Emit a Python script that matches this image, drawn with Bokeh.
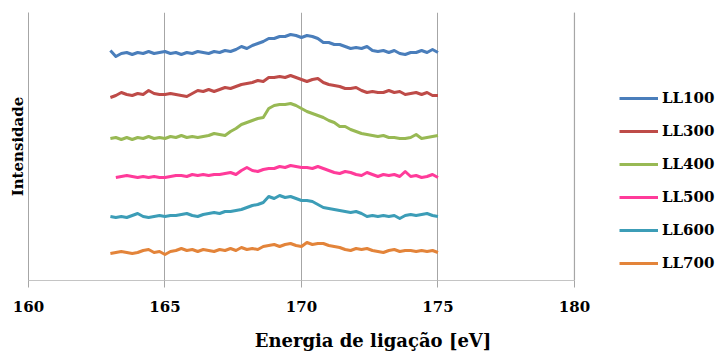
from bokeh.plotting import figure
from bokeh.models import FixedTicker, Legend, LegendItem, Range1d
from bokeh.embed import file_html
from bokeh.resources import INLINE

nan = float("nan")

energy = [163.0, 163.2, 163.4, 163.6, 163.8, 164.0, 164.2, 164.4, 164.6, 164.8,
          165.0, 165.2, 165.4, 165.6, 165.8, 166.0, 166.2, 166.4, 166.6, 166.8,
          167.0, 167.2, 167.4, 167.6, 167.8, 168.0, 168.2, 168.4, 168.6, 168.8,
          169.0, 169.2, 169.4, 169.6, 169.8, 170.0, 170.2, 170.4, 170.6, 170.8,
          171.0, 171.2, 171.4, 171.6, 171.8, 172.0, 172.2, 172.4, 172.6, 172.8,
          173.0, 173.2, 173.4, 173.6, 173.8, 174.0, 174.2, 174.4, 174.6, 174.8,
          175.0]

ll100 = [230, 224, 227, 228, 226, 228, 227, 229, 227, 228,
         229, 227, 228, 226, 228, 227, 229, 228, 227, 229,
         228, 230, 229, 231, 234, 232, 235, 237, 239, 242,
         242, 244, 244, 246, 245, 243, 245, 244, 242, 238,
         238, 236, 236, 234, 232, 233, 232, 234, 230, 229,
         230, 228, 230, 227, 226, 228, 228, 230, 228, 231,
         228]

ll300 = [183, 185, 188, 186, 185, 187, 186, 190, 187, 186,
         186, 187, 186, 185, 184, 187, 190, 189, 191, 189,
         191, 193, 192, 194, 196, 197, 198, 200, 199, 203,
         203, 204, 203, 205, 203, 201, 199, 201, 202, 198,
         196, 195, 194, 192, 192, 193, 190, 188, 189, 188,
         188, 190, 188, 189, 186, 187, 188, 186, 188, 185,
         185]

ll400 = [142, 143, 141, 143, 141, 143, 142, 144, 142, 143,
         142, 144, 143, 145, 143, 144, 143, 144, 145, 147,
         146, 145, 149, 152, 156, 158, 160, 162, 163, 172,
         175, 176, 176, 177, 175, 172, 169, 167, 165, 163,
         160, 158, 154, 154, 151, 149, 147, 146, 145, 144,
         145, 143, 143, 142, 142, 143, 146, 142, 143, 144,
         145]

ll500 = [nan, 103, 104, 105, 104, 103, 104, 103, 104, 103,
         103, 104, 105, 105, 104, 106, 105, 106, 105, 106,
         106, 107, 108, 106, 110, 113, 110, 109, 111, 112,
         112, 114, 113, 115, 114, 113, 113, 112, 114, 112,
         110, 108, 107, 109, 108, 106, 105, 108, 106, 104,
         106, 105, 106, 104, 109, 104, 105, 103, 104, 106,
         103]

ll600 = [64, 63, 64, 63, 65, 67, 64, 63, 64, 65,
         64, 65, 65, 66, 67, 65, 64, 66, 67, 68,
         67, 69, 69, 70, 71, 73, 75, 76, 78, 84,
         82, 85, 83, 84, 82, 80, 80, 79, 76, 73,
         72, 71, 70, 69, 68, 69, 67, 64, 65, 64,
         65, 64, 65, 62, 65, 66, 65, 66, 67, 65,
         64]

ll700 = [27, 28, 29, 28, 27, 28, 30, 31, 28, 29,
         26, 29, 30, 32, 30, 31, 29, 31, 30, 29,
         31, 30, 32, 30, 33, 31, 32, 31, 34, 35,
         36, 34, 36, 37, 35, 34, 38, 36, 37, 37,
         35, 34, 33, 31, 30, 32, 31, 32, 30, 29,
         28, 30, 31, 29, 30, 30, 29, 30, 29, 30,
         28]

series_names = ["LL100", "LL300", "LL400", "LL500", "LL600", "LL700"]
series_values = [ll100, ll300, ll400, ll500, ll600, ll700]
series_colors = ["#4a7ebb", "#be4b48", "#98b954", "#ff3b9a", "#3c9db7", "#e3843a"]

x_ticks = [160, 165, 170, 175, 180]
x_bounds = (160, 180)

FONT = "DejaVu Serif"
GRID = "#a6a6a6"

p = figure(width=717, height=353, output_backend="svg", toolbar_location=None,
           x_range=Range1d(160, 185.24), y_range=Range1d(0, 268),
           min_border_left=28, min_border_right=0, min_border_top=12,
           min_border_bottom=73)
p.outline_line_color = None
p.background_fill_color = "white"
p.border_fill_color = "white"

# closing vertical line at the end of the energy scale
p.segment(x0=[x_ticks[-1]], y0=[p.y_range.start], x1=[x_ticks[-1]], y1=[p.y_range.end],
          line_color=GRID, line_width=1.2)

items = []
for name, vals, col in zip(series_names, series_values, series_colors):
    r = p.line(energy, vals, line_color=col, line_width=3, line_join="round")
    items.append(LegendItem(label=name, renderers=[r]))

# x axis
p.xaxis.bounds = x_bounds
p.xaxis.ticker = FixedTicker(ticks=x_ticks)
p.xaxis.minor_tick_line_color = None
p.xaxis.major_tick_out = 7
p.xaxis.major_tick_in = 0
p.xaxis.axis_line_color = "#c4c4c4"
p.xaxis.major_tick_line_color = GRID
p.xaxis.major_label_text_font = FONT
p.xaxis.major_label_text_font_style = "bold"
p.xaxis.major_label_text_font_size = "15px"
p.xaxis.major_label_text_color = "black"
p.xaxis.major_label_standoff = 13
p.xaxis.axis_label = "Energia de ligação [eV]"
p.xaxis.axis_label_text_font = FONT
p.xaxis.axis_label_text_font_style = "bold"
p.xaxis.axis_label_text_font_size = "18px"
p.xaxis.axis_label_text_color = "black"
p.xaxis.axis_label_standoff = 15

# y axis
p.yaxis.ticker = FixedTicker(ticks=[])
p.yaxis.minor_tick_line_color = None
p.yaxis.major_tick_line_color = None
p.yaxis.axis_line_color = GRID
p.yaxis.axis_label = "Intensidade"
p.yaxis.axis_label_text_font = FONT
p.yaxis.axis_label_text_font_style = "bold"
p.yaxis.axis_label_text_font_size = "15px"
p.yaxis.axis_label_text_color = "black"
p.yaxis.axis_label_standoff = 2

# grid
p.xgrid.ticker = FixedTicker(ticks=x_ticks)
p.xgrid.grid_line_color = GRID
p.xgrid.grid_line_width = 1
p.ygrid.visible = False

legend = Legend(items=items, location=(591, 7))
legend.border_line_color = None
legend.background_fill_alpha = 0
legend.padding = 0
legend.margin = 0
legend.spacing = 13
legend.glyph_width = 39
legend.glyph_height = 20
legend.label_height = 20
legend.label_standoff = 4
legend.label_text_font = FONT
legend.label_text_font_style = "bold"
legend.label_text_font_size = "15px"
legend.label_text_color = "black"
p.add_layout(legend)

open("out.html", "w").write(file_html(p, INLINE))
